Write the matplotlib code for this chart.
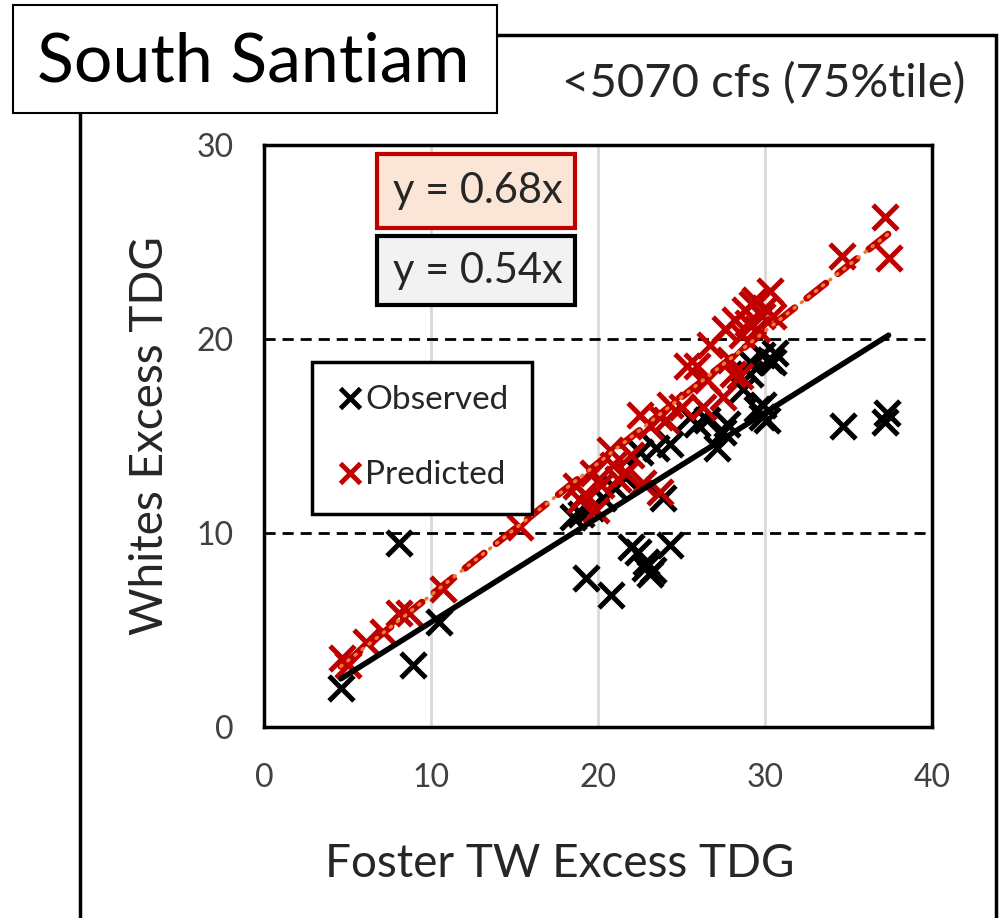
import matplotlib.pyplot as plt
from matplotlib.patches import Rectangle
from matplotlib.lines import Line2D

plt.rcParams['font.family'] = ['Lato', 'DejaVu Sans']

# observed TDG pairs (Foster tailwater vs Whites)
obs_x = [4.6, 8.1, 8.9, 10.5, 19.3, 20.8, 22.0, 22.4, 22.8, 22.9, 23.1, 23.3, 24.3, 23.9,
         18.5, 19.0, 19.6, 20.3, 21.0, 21.5, 22.5, 23.5, 24.3, 25.5, 25.9, 26.5, 27.1, 27.5,
         27.7, 28.7, 29.1, 29.1, 29.5, 29.8, 30.1, 29.9, 29.8, 30.3, 30.5, 30.6, 34.7, 37.2, 37.3]
obs_y = [2.0, 9.5, 3.2, 5.4, 7.7, 6.8, 9.3, 9.0, 8.2, 8.5, 7.9, 8.1, 9.4, 11.8,
         10.8, 11.0, 11.3, 11.8, 12.3, 13.0, 14.2, 14.4, 14.6, 16.0, 15.6, 15.8, 14.4, 15.2,
         15.6, 17.4, 18.2, 18.8, 16.4, 16.0, 15.8, 16.6, 19.2, 18.9, 18.8, 19.3, 15.5, 15.7, 16.2]

# model predictions
pred_x = [4.65, 5.0, 6.1, 7.1, 8.1, 8.7, 10.7, 15.3, 18.7, 18.9, 19.2, 19.7, 19.9, 20.2, 20.7,
          20.9, 21.2, 21.7, 22.0, 22.5, 22.7, 23.1, 23.7, 23.7, 24.1, 24.3, 25.0, 25.3, 25.9,
          26.3, 26.5, 26.7, 27.5, 27.6, 27.9, 28.1, 28.2, 28.5, 28.6, 28.8, 29.0, 29.2, 29.4,
          29.5, 29.8, 30.0, 30.3, 30.5, 34.6, 37.2, 37.4]
pred_y = [3.55, 3.2, 4.4, 4.9, 5.9, 5.9, 7.1, 10.3, 12.4, 11.7, 12.0, 13.1, 11.2, 12.5, 14.3,
          13.5, 12.8, 13.1, 14.0, 16.1, 12.6, 15.5, 16.0, 12.1, 15.8, 16.6, 16.5, 18.6, 18.6,
          16.5, 17.9, 19.7, 17.0, 20.5, 18.9, 18.2, 21.0, 18.1, 20.2, 21.5, 20.8, 21.8, 22.0,
          20.5, 21.2, 21.6, 22.5, 21.2, 24.3, 26.3, 24.2]

slope_obs = 0.54
slope_pred = 0.68
fit_range = [4.6, 37.4]

red = '#C00000'
orange = '#ED7D31'
txt = '#262626'

fig = plt.figure(figsize=(9.99, 9.18), dpi=100)

# outer panel frame
fig.patches.append(Rectangle((80 / 999, -0.05), (996 - 80) / 999, 1 - 35 / 918 + 0.05,
                             transform=fig.transFigure, fill=False, ec='black', lw=2.5))

ax = fig.add_axes([264 / 999, 1 - 727 / 918, 668 / 999, 582 / 918])
ax.set_xlim(0, 40)
ax.set_ylim(0, 30)
ax.set_xticks([0, 10, 20, 30, 40])
ax.set_yticks([0, 10, 20, 30])
ax.grid(axis='x', color='#D9D9D9', lw=2)
for yv in [10, 20]:
    ax.axhline(yv, color='black', ls=(0, (4, 2.5)), lw=2)
for s in ax.spines.values():
    s.set_linewidth(2.5)
ax.tick_params(length=0, labelsize=23, colors='#404040')
ax.tick_params(axis='x', pad=26)
ax.tick_params(axis='y', pad=22)

ax.scatter(obs_x, obs_y, marker='x', s=320, lw=3.6, color='black', zorder=3)
ax.scatter(pred_x, pred_y, marker='x', s=320, lw=3.6, color=red, zorder=4)

ox = fit_range
ax.plot(ox, [slope_obs * v for v in ox], color='black', lw=4, solid_capstyle='round', zorder=5)
py = [slope_pred * v for v in ox]
ax.plot(ox, py, color=red, lw=5, ls=(0, (3.5, 2.2)), dash_capstyle='round', zorder=6)
ax.plot(ox, py, color=orange, lw=2.5, ls=(0, (0.4, 2.2)), dash_capstyle='round', zorder=7)

ax.set_xlabel('Foster TW Excess TDG', fontsize=33, color=txt, labelpad=26)
ax.xaxis.set_label_coords((560 - 264) / 668, -0.2)
ax.set_ylabel('Whites Excess TDG', fontsize=33, color=txt, labelpad=18)

handles = [Line2D([], [], marker='x', ls='', color='black', ms=15, mew=3.5),
           Line2D([], [], marker='x', ls='', color=red, ms=15, mew=3.5)]
leg = ax.legend(handles, ['Observed', 'Predicted'], loc='upper left',
                bbox_to_anchor=(312 / 999, 1 - 362 / 918), bbox_transform=fig.transFigure,
                fontsize=24, frameon=True, fancybox=False, edgecolor='black', framealpha=1,
                labelspacing=1.35, handletextpad=0.0, handlelength=0.9, borderpad=0.7,
                borderaxespad=0)
leg.get_frame().set_linewidth(2.5)
leg.set_zorder(9)
for t in leg.get_texts():
    t.set_color(txt)

# equation boxes
for (y0, y1), slope, fc, ec in [((154, 228), slope_pred, '#FBE5D6', red),
                                ((236, 305), slope_obs, '#F2F2F2', 'black')]:
    fig.patches.append(Rectangle((377 / 999, 1 - y1 / 918), 198 / 999, (y1 - y0) / 918,
                                 transform=fig.transFigure, fc=fc, ec=ec, lw=3, zorder=10))
    fig.text(478 / 999, 1 - (y0 + y1) / 2 / 918, f'y = {slope}x', ha='center', va='center',
             fontsize=30, color=txt, zorder=11)

# site title box
fig.patches.append(Rectangle((13 / 999, 1 - 113 / 918), 484 / 999, 108 / 918,
                             transform=fig.transFigure, fc='white', ec='black', lw=1.5, zorder=10))
fig.text(253 / 999, 1 - 62 / 918, 'South Santiam', ha='center', va='center',
         fontsize=49, color='black', zorder=11)
fig.text(965 / 999, 1 - 84 / 918, '<5070 cfs (75%tile)', ha='right', va='center',
         fontsize=34, color=txt)

fig.savefig('out.png', dpi=100)
